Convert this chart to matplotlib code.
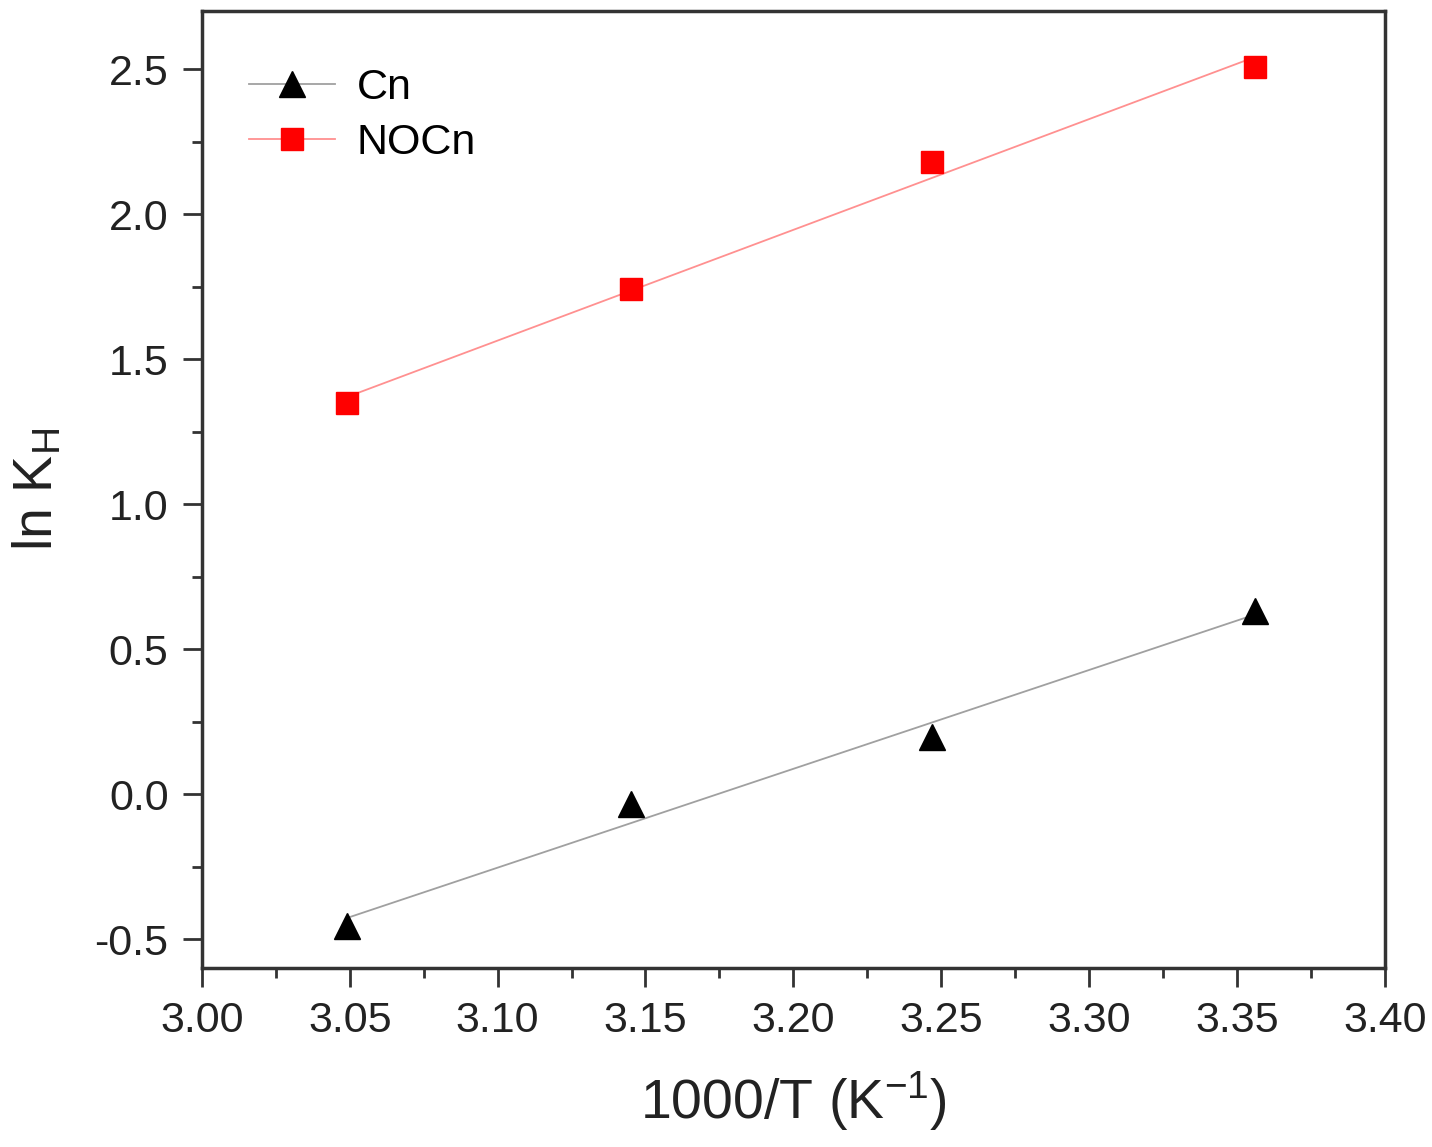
import numpy as np
import matplotlib
matplotlib.use("Agg")
import matplotlib.pyplot as plt
from matplotlib.ticker import MultipleLocator

plt.rcParams['font.family'] = ['Liberation Sans', 'DejaVu Sans']
plt.rcParams['mathtext.fontset'] = 'custom'
plt.rcParams['mathtext.rm'] = 'Liberation Sans'
plt.rcParams['mathtext.it'] = 'Liberation Sans'
plt.rcParams['mathtext.sf'] = 'Liberation Sans'

inv_T = [3.049, 3.145, 3.247, 3.356]
cn = [-0.455, -0.034, 0.197, 0.631]
nocn = [1.348, 1.741, 2.179, 2.507]

fig = plt.figure(figsize=(14.32, 11.47), dpi=100)
ax = fig.add_axes([0.141, 0.156, 0.826, 0.834])

x = np.array(inv_T)
xs = np.array([x.min(), x.max()])
for y, col, lcol, mk, ms, lab in [
    (cn, 'black', '#a0a0a0', '^', 19, 'Cn'),
    (nocn, '#ff0000', '#ff9090', 's', 16, 'NOCn'),
]:
    p = np.polyfit(x, np.array(y), 1)
    ax.plot(xs, np.polyval(p, xs), color=lcol, lw=1.3, zorder=2)
    ax.plot(x, y, linestyle='none', marker=mk, ms=ms, color=col, zorder=3)
    ax.plot([], [], color=lcol, lw=1.3, marker=mk, ms=ms, mfc=col, mec=col, label=lab)

ax.set_xlim(3.00, 3.40)
ax.set_ylim(-0.6, 2.7)
ax.xaxis.set_major_locator(MultipleLocator(0.05))
ax.xaxis.set_minor_locator(MultipleLocator(0.025))
ax.yaxis.set_major_locator(MultipleLocator(0.5))
ax.yaxis.set_minor_locator(MultipleLocator(0.25))
ax.xaxis.set_major_formatter(matplotlib.ticker.FormatStrFormatter('%.2f'))
ax.yaxis.set_major_formatter(matplotlib.ticker.FormatStrFormatter('%.1f'))

for s in ax.spines.values():
    s.set_linewidth(2.5)
    s.set_color('#333333')
ax.tick_params(which='major', direction='out', length=14, width=2, color='#333333',
               labelsize=31, pad=10, labelcolor='#222222')
ax.tick_params(which='minor', direction='out', length=7, width=2, color='#333333')

ax.set_xlabel('1000/T (K$^{-1}$)', fontsize=40, labelpad=20, color='#222222')
ax.set_ylabel('ln K$_{\\mathrm{H}}$', fontsize=40, labelpad=22, color='#222222')

leg = ax.legend(loc='upper left', frameon=False, fontsize=31, handlelength=2.0,
                handletextpad=0.5, labelspacing=0.35, borderaxespad=0.0, borderpad=0.0,
                bbox_to_anchor=(0.04, 0.941))

fig.savefig('out.png', dpi=100, facecolor='white')
